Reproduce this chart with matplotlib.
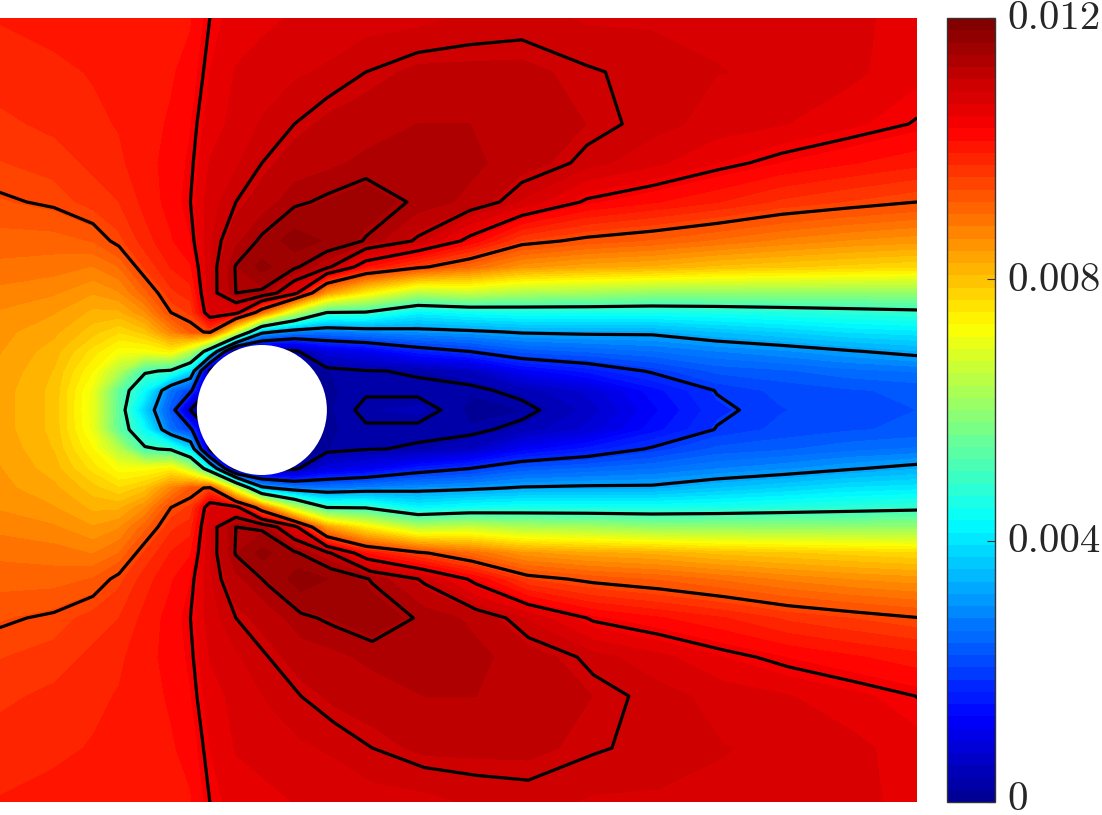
import numpy as np
import matplotlib
matplotlib.use("Agg")
import matplotlib.pyplot as plt
from matplotlib.colors import LinearSegmentedColormap
from matplotlib.patches import Circle
from matplotlib.transforms import ScaledTranslation

# sample positions, cylinder of diameter 1 at the origin
x_cols = [-2.02, -1.6, -1.3, -1.1, -0.9, -0.7, -0.55, -0.4, -0.2, 0, 0.25, 0.5,
          0.8, 1.2, 1.6, 2, 2.5, 3, 3.5, 4, 4.5, 5.04]
y_rows = [0, 0.15, 0.3, 0.45, 0.6, 0.75, 0.9, 1.1, 1.3, 1.6, 1.9, 2.2, 2.6, 3.02]

# values in units of 1e-3, one list per x column,
# upper half only (y_rows order), the lower half is nearly its mirror image
columns = [
    [8.35, 8.35, 8.4, 8.45, 8.5, 8.6, 8.75, 8.95, 9.1, 9.35, 9.55, 9.7, 9.85, 9.95],
    [8.0, 8.0, 8.05, 8.15, 8.3, 8.45, 8.65, 8.9, 9.1, 9.45, 9.65, 9.8, 9.9, 10.0],
    [7.0, 7.05, 7.3, 7.6, 7.95, 8.2, 8.45, 8.8, 9.2, 9.65, 9.8, 9.9, 9.95, 10.0],
    [5.4, 5.45, 6.4, 7.2, 7.7, 8.2, 8.6, 9.0, 9.5, 9.75, 9.9, 9.95, 10.0, 10.0],
    [3.7, 4.3, 5.1, 7.2, 7.95, 8.6, 9.1, 9.6, 9.85, 10.0, 10.05, 10.05, 10.05, 10.0],
    [2.3, 2.6, 4.9, 7.4, 8.7, 9.4, 9.7, 9.95, 10.1, 10.2, 10.2, 10.15, 10.1, 10.05],
    [0.3, 2.05, 3.9, 6.5, 9.2, 9.6, 9.85, 10.1, 10.3, 10.4, 10.35, 10.3, 10.2, 10.1],
    [0.1, 0.1, 0.2, 4.3, 9.5, 10.7, 10.85, 10.85, 10.85, 10.8, 10.7, 10.6, 10.5, 10.4],
    [0.15, 0.15, 0.15, 0.15, 6.8, 10.6, 11.4, 11.42, 11.2, 11.0, 10.85, 10.75, 10.7, 10.6],
    [0.15, 0.15, 0.15, 0.15, 3.4, 9.0, 11.35, 11.7, 11.45, 11.15, 11.0, 10.9, 10.75, 10.65],
    [0.15, 0.15, 0.15, 0.2, 2.8, 6.6, 10.6, 11.45, 11.75, 11.35, 11.15, 11.0, 10.85, 10.7],
    [0.15, 0.15, 0.18, 0.9, 2.7, 5.0, 8.4, 11.1, 11.6, 11.45, 11.2, 11.1, 10.9, 10.75],
    [0.36, 0.27, 0.28, 1.1, 2.85, 4.95, 7.4, 10.1, 11.38, 11.55, 11.3, 11.15, 11.0, 10.8],
    [0.42, 0.24, 0.33, 1.6, 3.0, 4.2, 6.4, 9.5, 10.95, 11.36, 11.33, 11.25, 11.1, 10.82],
    [0.15, 0.2, 0.55, 1.9, 3.1, 4.4, 6.6, 9.0, 10.28, 11.2, 11.3, 11.25, 11.1, 10.9],
    [0.18, 0.42, 1.2, 2.3, 3.25, 4.5, 6.3, 8.5, 9.55, 10.85, 11.15, 11.2, 11.1, 10.93],
    [0.62, 0.8, 1.55, 2.45, 3.3, 4.5, 6.2, 8.3, 9.3, 10.35, 10.95, 11.06, 11.02, 10.85],
    [1.25, 1.4, 1.95, 2.6, 3.3, 4.5, 6.0, 8.2, 9.15, 10.15, 10.75, 10.95, 10.95, 10.85],
    [1.82, 1.92, 2.3, 2.8, 3.55, 4.55, 6.0, 8.0, 8.95, 9.95, 10.5, 10.8, 10.88, 10.85],
    [2.05, 2.12, 2.4, 2.95, 3.75, 4.65, 6.0, 7.9, 8.75, 9.7, 10.3, 10.7, 10.85, 10.85],
    [2.15, 2.22, 2.55, 3.15, 3.95, 4.75, 6.0, 7.8, 8.6, 9.55, 10.15, 10.55, 10.75, 10.75],
    [2.25, 2.3, 2.65, 3.35, 4.05, 4.85, 6.0, 7.7, 8.5, 9.4, 10.0, 10.38, 10.55, 10.6],
]

line_levels = [0.3, 1.9, 3.2, 5.0, 9.4, 10.4, 11.0, 11.4]
tick_values = [0, 0.004, 0.008, 0.012]
tick_labels = ["0", "0.004", "0.008", "0.012"]

# same stops as the matlab jet map, 64 bands
jet64 = LinearSegmentedColormap.from_list("jet64", [
    (0.0, (0, 0, 0.5625)),
    (0.109, (0, 0, 1)),
    (0.359, (0, 1, 1)),
    (0.609, (1, 1, 0)),
    (0.859, (1, 0, 0)),
    (1.0, (0.5, 0, 0)),
], N=256)


def main():
    upper = np.array(columns).T * 1e-3
    y_upper = np.array(y_rows)
    y = np.concatenate([-y_upper[:0:-1], y_upper])
    field = np.vstack([upper[:0:-1], upper])

    # the lower lobe sits a little further downstream than the upper one
    X, Y = np.meshgrid(x_cols, y)
    X[(Y <= -1.3) & (X >= 0)] += 0.05

    W, H = 1102, 815
    fig = plt.figure(figsize=(W / 100, H / 100), dpi=100)
    ax = fig.add_axes([0, (H - 802) / H, 917 / W, 784 / H])
    cax = fig.add_axes([947 / W, (H - 802) / H, 48 / W, 784 / H])

    levels = np.linspace(0, 0.012, 65)
    cf = ax.contourf(X, Y, field, levels=levels, cmap=jet64)
    ax.contour(X, Y, field, levels=np.array(line_levels) * 1e-3, colors="k", linewidths=2.3)
    ax.add_patch(Circle((0, 0), 0.5, facecolor="white", edgecolor="none", zorder=5))
    ax.set_xlim(-2.015, 5.04)
    ax.set_ylim(-3.015, 3.015)
    ax.axis("off")

    cb = fig.colorbar(cf, cax=cax, ticks=tick_values)
    cb.ax.set_yticklabels(tick_labels, family="cmr10", fontsize=29.5, color="#262626")
    cb.ax.tick_params(direction="in", length=6, width=0.8, color="#333333", pad=9, right=True)
    cb.outline.set_edgecolor("#333333")
    cb.outline.set_linewidth(1.0)
    # labels sit slightly above their ticks, the bottom one a bit more to stay on the canvas
    for lab, up in zip(cb.ax.get_yticklabels(), [6, 2.5, 2.5, 2.5]):
        lab.set_transform(lab.get_transform() + ScaledTranslation(0, up / 100, fig.dpi_scale_trans))

    fig.savefig("out.png", dpi=100)


if __name__ == "__main__":
    main()
